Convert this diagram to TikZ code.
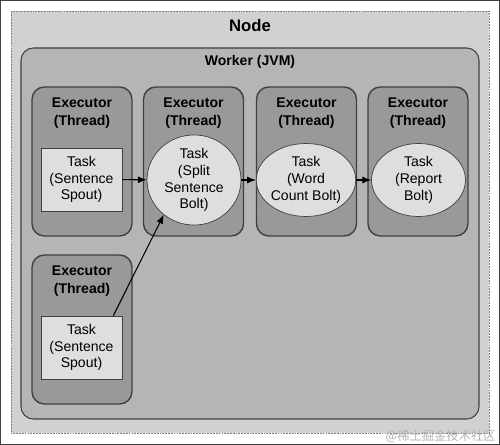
\documentclass[tikz,border=0pt]{standalone}
\usepackage{fontspec}
\setmainfont{Liberation Sans}
\newfontfamily\cjkfont{Noto Sans CJK SC}
\usepackage{tikz}
\usetikzlibrary{shapes.geometric,arrows.meta}

\definecolor{nodegray}{gray}{0.82}
\definecolor{workergray}{gray}{0.71}
\definecolor{execgray}{gray}{0.60}
\definecolor{taskgray}{gray}{0.87}
\definecolor{linegray}{gray}{0.25}

\tikzset{
  execbox/.style={draw=linegray, fill=execgray, rounded corners=7pt, thick,
    minimum width=2cm, minimum height=2.98cm},
  execlabel/.style={align=center, font=\fontsize{8}{10.2}\selectfont\bfseries},
  taskbox/.style={draw=linegray, fill=taskgray, align=center,
    minimum width=1.62cm, minimum height=1.26cm, inner sep=0pt,
    font=\fontsize{8}{9.6}\selectfont},
  taskoval/.style={ellipse, draw=linegray, fill=taskgray, align=center,
    minimum width=1.88cm, minimum height=1.46cm, inner sep=0pt,
    font=\fontsize{8}{9.6}\selectfont},
  flow/.style={-{Latex[length=5pt,width=4pt]}, line width=0.6pt}
}

\begin{document}
\begin{tikzpicture}[x=0.02cm, y=-0.02cm]
        \useasboundingbox (0,0) rectangle (500,445);
        %Frame
        \draw [linegray, fill=white, line width=0.8pt] (0.5,0.5) rectangle (499.5,444.5);
        %Node
        \draw [gray, dash pattern=on 1pt off 0.6pt, fill=nodegray, line width=0.5pt] (11,11) rectangle (489,433);
        \node (nodetitle) at (250,26) {\fontsize{9.5}{11}\selectfont\bfseries Node};
        %Worker
        \draw [linegray, fill=workergray, rounded corners=7pt, line width=0.6pt] (21,48) rectangle (479,419);
        \node (workertitle) at (250,62) {\fontsize{8}{10}\selectfont\bfseries Worker (JVM)};
        %Executors
        \node [execbox] (ex1) at (82,161.5) {};
        \node [execbox] (ex2) at (193.5,161.5) {};
        \node [execbox] (ex3) at (306.5,161.5) {};
        \node [execbox] (ex4) at (418,161.5) {};
        \node [execbox] (ex5) at (82,329.5) {};
        \node [execlabel] (ex1lbl) at (82,113) {Executor\\(Thread)};
        \node [execlabel] (ex2lbl) at (193.5,113) {Executor\\(Thread)};
        \node [execlabel] (ex3lbl) at (306.5,113) {Executor\\(Thread)};
        \node [execlabel] (ex4lbl) at (418,113) {Executor\\(Thread)};
        \node [execlabel] (ex5lbl) at (82,281) {Executor\\(Thread)};
        %Tasks
        \node [taskbox] (spout1) at (81.5,179.5) {Task\\(Sentence\\Spout)};
        \node [taskoval] (split) at (194,180) {Task\\(Split\\Sentence\\Bolt)};
        \node [taskoval] (count) at (306,180) {Task\\(Word\\Count Bolt)};
        \node [taskoval] (report) at (418.5,180) {Task\\(Report\\Bolt)};
        \node [taskbox] (spout2) at (81.5,347.5) {Task\\(Sentence\\Spout)};
        %Streams
        \draw [flow] (spout1) -- (split);
        \draw [flow] (split) -- (count);
        \draw [flow] (count) -- (report);
        \draw [flow] (spout2.45) -- (split.229);
        %Mark
        \node [gray!60, anchor=east, inner sep=0pt] (mark) at (496,436)
          {\cjkfont\fontsize{7}{8}\selectfont @稀土掘金技术社区};
      \end{tikzpicture}
\end{document}
